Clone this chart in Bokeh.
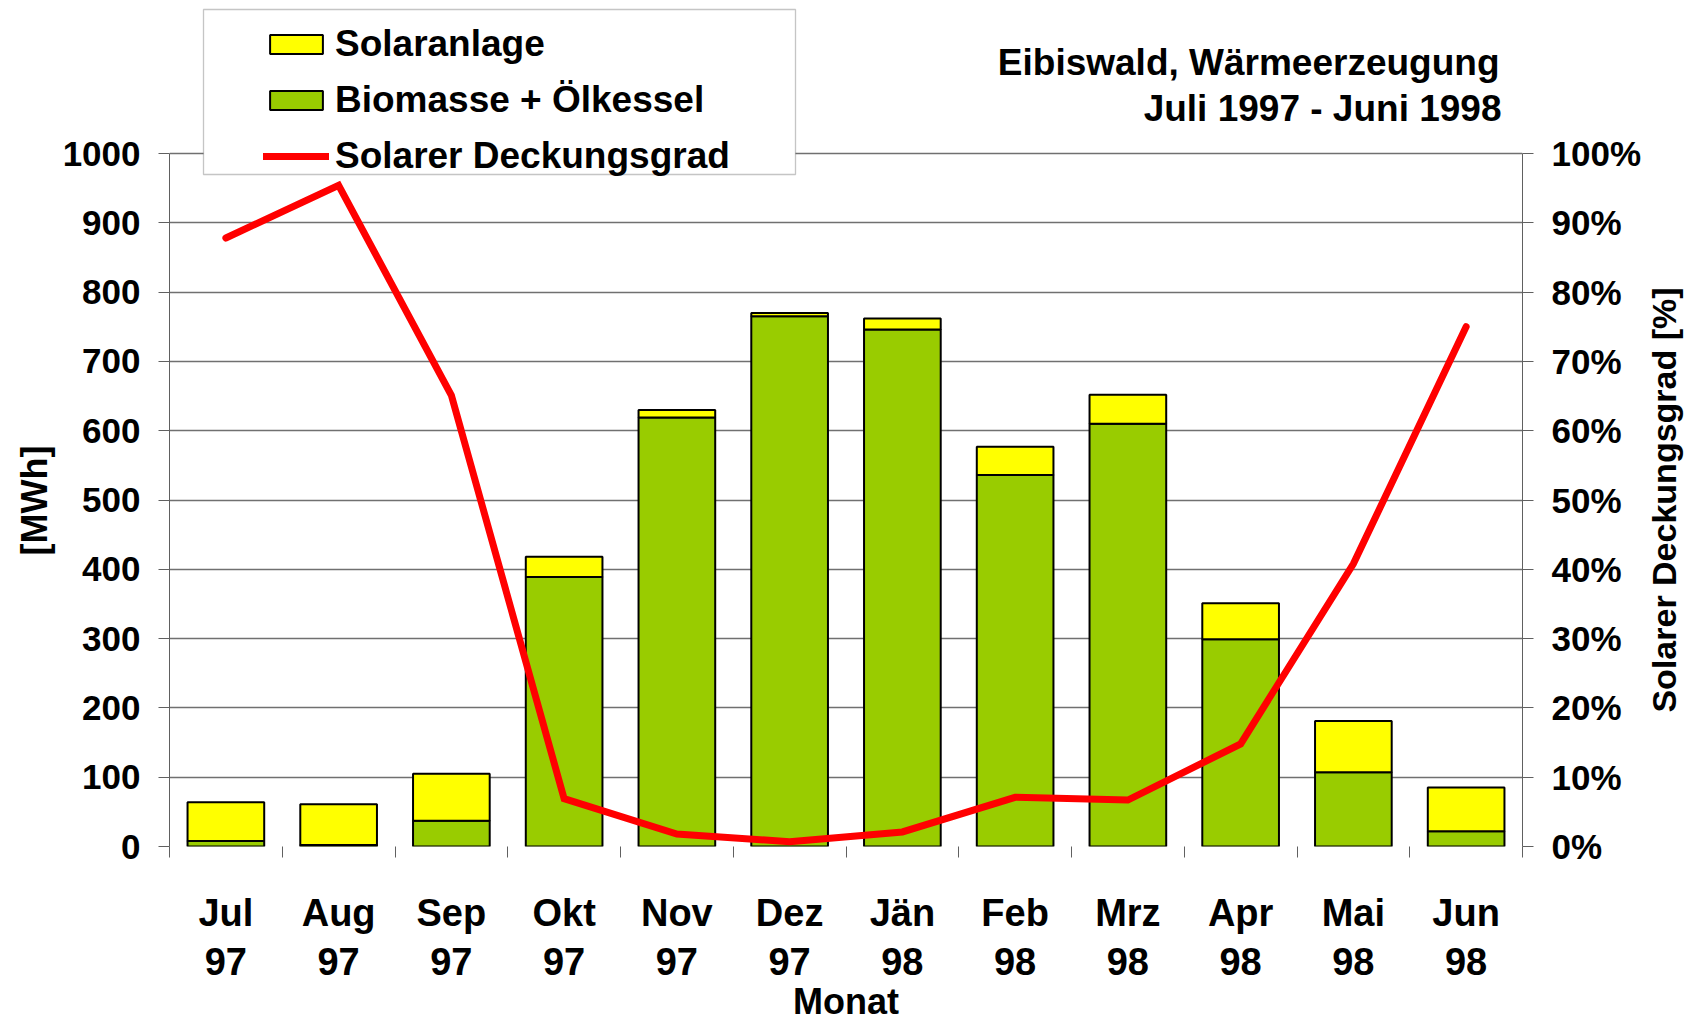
import math
from bokeh.plotting import figure
from bokeh.models import (Range1d, LinearAxis, FixedTicker, PrintfTickFormatter, Title,
                          Legend, LegendItem, Label, BoxAnnotation, ColumnDataSource)
from bokeh.embed import file_html
from bokeh.resources import INLINE

# ---------------- data ----------------
months = ["Jul", "Aug", "Sep", "Okt", "Nov", "Dez", "Jän", "Feb", "Mrz", "Apr", "Mai", "Jun"]
years = ["97", "97", "97", "97", "97", "97", "98", "98", "98", "98", "98", "98"]
biomasse = [8, 2, 37, 389, 619, 765, 746, 536, 610, 299, 107, 22]      # MWh
solaranlage = [56, 59, 68, 29, 11, 5, 16, 41, 42, 52, 74, 63]          # MWh
deckungsgrad = [87.8, 95.4, 65.1, 6.9, 1.8, 0.7, 2.1, 7.1, 6.7, 14.8, 40.8, 75.0]  # %
y_ticks = [0, 100, 200, 300, 400, 500, 600, 700, 800, 900, 1000]
pct_ticks = [0, 10, 20, 30, 40, 50, 60, 70, 80, 90, 100]

# ---------------- layout constants ----------------
FONT = "Liberation Sans"
GREEN = "#99CC00"
YELLOW = "#FFFF00"
RED = "#FF0000"
GRID = "#707070"
AXC = "#606060"
W, H = 1689, 1024
FRAME_L, FRAME_R, FRAME_B = 169, 1522, 846     # px
PX_TOP_TICK = 153                              # px of the 1000 / 100% line
Y_MAX, P_MAX = 1000, 100
# frame extends to the top of the canvas (room for legend and title)
stretch = FRAME_B / (FRAME_B - PX_TOP_TICK)
AXIS_MID_PX = (FRAME_B + PX_TOP_TICK) / 2

n = len(months)
xc = [i + 0.5 for i in range(n)]
bounds = list(range(n + 1))

src = ColumnDataSource(dict(x=xc, bio=biomasse, solar=solaranlage, pct=deckungsgrad))

p = figure(width=W, height=H, output_backend="svg", toolbar_location=None,
           x_range=Range1d(0, n), y_range=Range1d(0, Y_MAX * stretch),
           min_border_left=FRAME_L, min_border_right=W - FRAME_R, min_border_top=0,
           min_border_bottom=H - FRAME_B, outline_line_color=None,
           background_fill_color="white", border_fill_color="white")
p.extra_y_ranges = {"pct": Range1d(0, P_MAX * stretch)}

# grid
p.xgrid.visible = False
p.ygrid.ticker = FixedTicker(ticks=y_ticks)
p.ygrid.grid_line_color = GRID
p.ygrid.grid_line_width = 1.4

# bars
rs = p.vbar_stack(["bio", "solar"], x="x", width=0.68, source=src,
                  fill_color=[GREEN, YELLOW], line_color="black", line_width=2)
# line
lr = p.line("x", "pct", source=src, y_range_name="pct", line_color=RED,
            line_width=7, line_join="miter", line_cap="round")


def style_labels(ax, size="35px"):
    ax.major_label_text_font = FONT
    ax.major_label_text_font_size = size
    ax.major_label_text_font_style = "bold"
    ax.major_label_text_color = "black"
    ax.minor_tick_line_color = None


# left axis
ya = p.yaxis[0]
ya.ticker = FixedTicker(ticks=y_ticks)
ya.bounds = (0, Y_MAX)
style_labels(ya)
ya.major_tick_out = 11
ya.major_tick_in = 0
ya.major_tick_line_color = AXC
ya.axis_line_color = AXC
ya.major_label_standoff = 18

# left axis title, reads bottom to top
p.add_layout(Title(text="[MWh]", align="left", offset=291, standoff=10,
                   text_font=FONT, text_font_size="36px", text_font_style="bold",
                   text_color="black"), "left")

# right axis: line, ticks, labels
ra = LinearAxis(y_range_name="pct", ticker=FixedTicker(ticks=pct_ticks),
                formatter=PrintfTickFormatter(format="%d%%"), bounds=(0, P_MAX))
style_labels(ra)
ra.major_tick_out = 11
ra.major_tick_in = 0
ra.major_tick_line_color = AXC
ra.axis_line_color = AXC
ra.major_label_standoff = 18
p.add_layout(ra, "right")

# right axis title (reads bottom to top)
p.add_layout(Label(x=19, y=FRAME_B - AXIS_MID_PX, x_units="screen", y_units="screen",
                   angle=90, angle_units="deg", text="Solarer Deckungsgrad [%]",
                   text_align="center", text_baseline="middle", text_font=FONT,
                   text_font_size="34px", text_font_style="bold", text_color="black"),
             "right")

# bottom: boundary ticks
xa = p.xaxis[0]
xa.ticker = FixedTicker(ticks=bounds)
xa.major_label_overrides = {b: "" for b in bounds}
xa.major_label_text_font_size = "0px"
xa.major_label_standoff = 0
xa.major_tick_out = 11
xa.major_tick_in = 0
xa.major_tick_line_color = AXC
xa.axis_line_color = None
xa.minor_tick_line_color = None

# month names
ma = LinearAxis(ticker=FixedTicker(ticks=xc),
                major_label_overrides={x: m for x, m in zip(xc, months)})
style_labels(ma, "38px")
ma.major_tick_out = 0
ma.major_tick_in = 0
ma.major_tick_line_color = None
ma.axis_line_color = None
ma.major_label_standoff = 34
p.add_layout(ma, "below")

# years + axis title
yr = LinearAxis(ticker=FixedTicker(ticks=xc),
                major_label_overrides={x: y for x, y in zip(xc, years)})
style_labels(yr, "38px")
yr.major_tick_out = 0
yr.major_tick_in = 0
yr.major_tick_line_color = None
yr.axis_line_color = None
yr.major_label_standoff = 11
yr.axis_label = "Monat"
yr.axis_label_text_font = FONT
yr.axis_label_text_font_style = "bold"
yr.axis_label_text_color = "black"
yr.axis_label_text_font_size = "36px"
yr.axis_label_standoff = 3
p.add_layout(yr, "below")

# chart title (two lines, right aligned), frame-relative pixels
for txt, tx, ty in [("Eibiswald, Wärmeerzeugung", 1499, 62),
                    ("Juli 1997 - Juni 1998", 1501, 108)]:
    p.add_layout(Label(x=tx - FRAME_L, y=FRAME_B - ty, x_units="screen", y_units="screen",
                       text=txt, text_align="right", text_baseline="middle",
                       text_font=FONT, text_font_size="37px", text_font_style="bold",
                       text_color="black"))

# legend frame
p.add_layout(BoxAnnotation(left=203 - FRAME_L, right=795 - FRAME_L,
                           top=FRAME_B - 9, bottom=FRAME_B - 174,
                           left_units="screen", right_units="screen",
                           top_units="screen", bottom_units="screen",
                           fill_color="white", fill_alpha=1.0,
                           line_color="#404040", line_width=1.3))

legend = Legend(items=[LegendItem(label="Solaranlage", renderers=[rs[1]]),
                       LegendItem(label="Biomasse + Ölkessel", renderers=[rs[0]]),
                       LegendItem(label="Solarer Deckungsgrad", renderers=[lr])],
                location=(263 - FRAME_L, FRAME_B - 177), orientation="vertical",
                border_line_color=None, background_fill_alpha=0.0,
                padding=0, margin=0, spacing=14, label_standoff=6,
                glyph_width=66, glyph_height=24, label_height=20,
                label_text_font=FONT, label_text_font_size="37px",
                label_text_font_style="bold", label_text_color="black")
p.add_layout(legend, "center")

open("out.html", "w").write(file_html(p, INLINE))
